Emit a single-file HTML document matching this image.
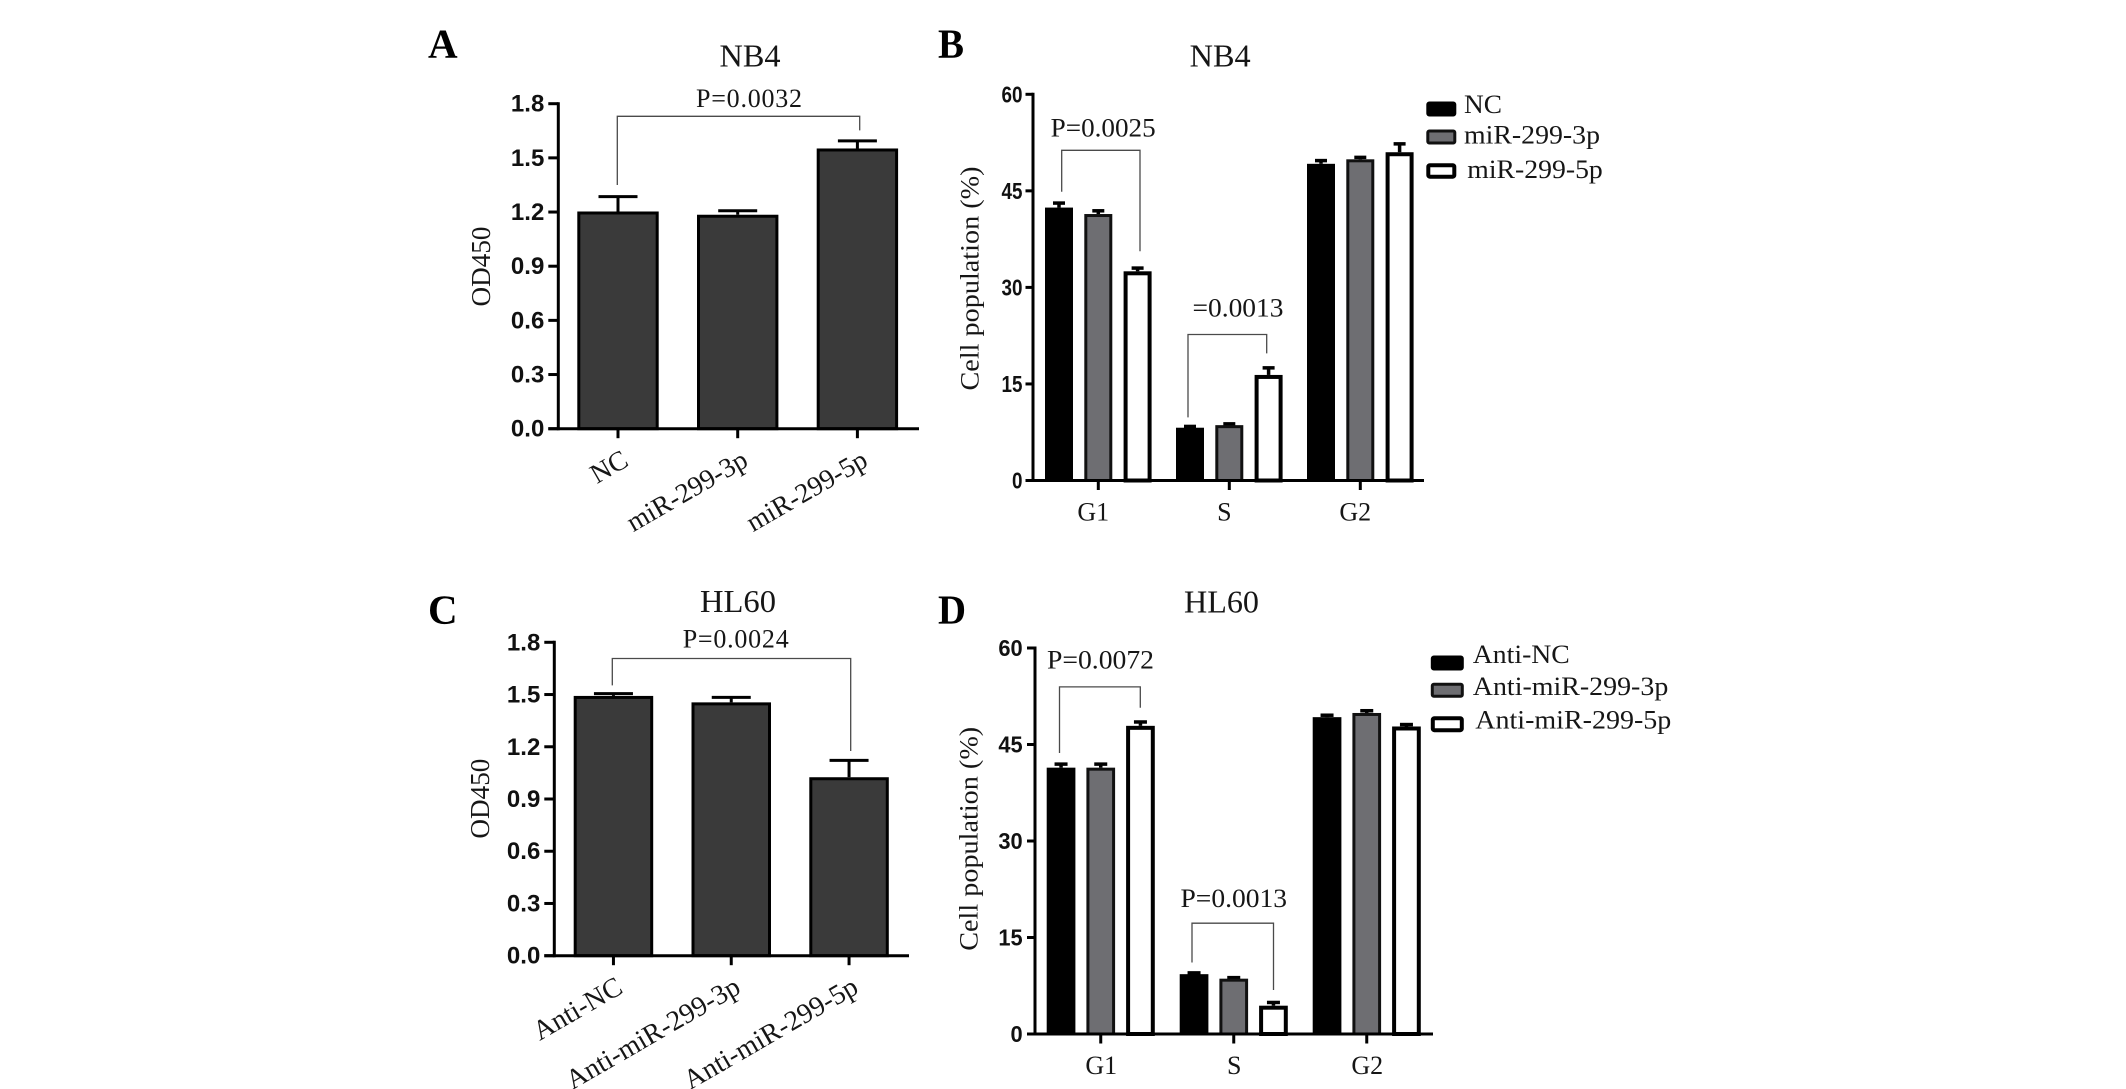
<!DOCTYPE html>
<html lang="en">
<head>
<meta charset="utf-8">
<title>miR-299 OD450 and cell population charts</title>
<style>
  html, body { margin: 0; padding: 0; background: #fff; }
  body { width: 2126px; height: 1089px; overflow: hidden; }
  svg { display: block; }
  .serif { font-family: "Liberation Serif", serif; fill: #161616; }
  .sans { font-family: "Liberation Sans", sans-serif; fill: #111; font-weight: 700; }
  .letter { font-family: "Liberation Serif", serif; font-weight: 700; font-size: 41px; fill: #000; }
  .title { font-size: 32px; }
  .annot { font-size: 26px; }
  .axis-title { font-size: 26px; }
  .legend-text { font-size: 26px; }
  .bracket { fill: none; stroke: #4a4a4a; stroke-width: 1.3; }
</style>
</head>
<body>
<svg id="fig" width="2126" height="1089" viewBox="0 0 2126 1089" xmlns="http://www.w3.org/2000/svg">
  <rect width="2126" height="1089" fill="#fff"/>

  <!-- Panel letters and titles -->
  <text class="letter" x="428" y="57.7">A</text>
  <text class="letter" x="938" y="57.7" textLength="26" lengthAdjust="spacingAndGlyphs">B</text>
  <text class="letter" x="428" y="623.7">C</text>
  <text class="letter" x="938" y="623.7" textLength="28" lengthAdjust="spacingAndGlyphs">D</text>

  <text class="serif title" x="719.5" y="66.7" textLength="61" lengthAdjust="spacingAndGlyphs">NB4</text>
  <text class="serif title" x="1189.7" y="66.7" textLength="61" lengthAdjust="spacingAndGlyphs">NB4</text>
  <text class="serif title" x="700" y="612.2" textLength="76" lengthAdjust="spacingAndGlyphs">HL60</text>
  <text class="serif title" x="1184" y="612.7" textLength="75" lengthAdjust="spacingAndGlyphs">HL60</text>

  <!-- Axis titles -->
  <text class="serif" font-size="27" transform="translate(490 306.5) rotate(-90)" textLength="80" lengthAdjust="spacingAndGlyphs">OD450</text>
  <text class="serif axis-title" transform="translate(978.5 390.5) rotate(-90)" textLength="224" lengthAdjust="spacingAndGlyphs">Cell population (%)</text>
  <text class="serif" font-size="27" transform="translate(489 838.6) rotate(-90)" textLength="80" lengthAdjust="spacingAndGlyphs">OD450</text>
  <text class="serif axis-title" transform="translate(977.5 950.8) rotate(-90)" textLength="224" lengthAdjust="spacingAndGlyphs">Cell population (%)</text>

  <!-- Significance annotations -->
  <path class="bracket" d="M617.3 185V116.3H859.7V130.4"/>
  <text class="serif annot" x="696" y="107" textLength="106" lengthAdjust="spacing">P=0.0032</text>

  <path class="bracket" d="M1061.7 191.7V150.3H1140V251.2"/>
  <text class="serif annot" x="1050.7" y="136.7" textLength="105" lengthAdjust="spacingAndGlyphs">P=0.0025</text>
  <path class="bracket" d="M1188 417.4V334.5H1266.7V353.4"/>
  <text class="serif annot" x="1192.5" y="316.6" textLength="91" lengthAdjust="spacingAndGlyphs">=0.0013</text>

  <path class="bracket" d="M612.3 685.4V658.5H850.7V751"/>
  <text class="serif annot" x="682.7" y="647.5" textLength="106" lengthAdjust="spacing">P=0.0024</text>

  <path class="bracket" d="M1059.5 753V686.9H1140.3V707.8"/>
  <text class="serif annot" x="1047" y="668.4" textLength="107" lengthAdjust="spacingAndGlyphs">P=0.0072</text>
  <path class="bracket" d="M1192 962.5V923.2H1273.5V990"/>
  <text class="serif annot" x="1180.5" y="907.2" textLength="106.5" lengthAdjust="spacingAndGlyphs">P=0.0013</text>

  <!-- Legend B -->
  <g>
    <g>
      <rect x="1427.8" y="103" width="27" height="12" rx="1.5" fill="#000" stroke="#000" stroke-width="3"/>
      <text class="serif legend-text" x="1464" y="113" textLength="38" lengthAdjust="spacingAndGlyphs">NC</text>
    </g>
    <g>
      <rect x="1427.8" y="131" width="27" height="12" rx="1.5" fill="#6e6e72" stroke="#111" stroke-width="3"/>
      <text class="serif legend-text" x="1464" y="143.4" textLength="136" lengthAdjust="spacingAndGlyphs">miR-299-3p</text>
    </g>
    <g>
      <rect x="1428.3" y="165.2" width="26" height="11.5" rx="1.5" fill="#fff" stroke="#000" stroke-width="4"/>
      <text class="serif legend-text" x="1467.3" y="178.2" textLength="135.5" lengthAdjust="spacingAndGlyphs">miR-299-5p</text>
    </g>
  </g>

  <!-- Legend D -->
  <g>
    <g>
      <rect x="1432.3" y="657" width="30" height="12" rx="1.5" fill="#000" stroke="#000" stroke-width="3"/>
      <text class="serif legend-text" x="1472.8" y="662.9" textLength="97" lengthAdjust="spacingAndGlyphs">Anti-NC</text>
    </g>
    <g>
      <rect x="1432.3" y="684.3" width="30" height="12" rx="1.5" fill="#6e6e72" stroke="#111" stroke-width="3"/>
      <text class="serif legend-text" x="1472.8" y="694.9" textLength="195.5" lengthAdjust="spacingAndGlyphs">Anti-miR-299-3p</text>
    </g>
    <g>
      <rect x="1432.8" y="718.2" width="29" height="12" rx="1.5" fill="#fff" stroke="#000" stroke-width="4"/>
      <text class="serif legend-text" x="1475.3" y="728.6" textLength="196" lengthAdjust="spacingAndGlyphs">Anti-miR-299-5p</text>
    </g>
  </g>
</svg>

<script>
// ---- Panel A data ----
const aCategories = ['NC', 'miR-299-3p', 'miR-299-5p'];
const aValues = [1.203, 1.185, 1.552];
const aErrors = [0.082, 0.022, 0.042];
const aTicks = ['0.0', '0.3', '0.6', '0.9', '1.2', '1.5', '1.8'];

// ---- Panel B data ----
const bCategories = ['G1', 'S', 'G2'];
const bNC = [42.4, 8.2, 49.2];
const b3p = [41.4, 8.6, 49.9];
const b5p = [32.5, 16.4, 51.0];
const bNCErrors = [0.7, 0.2, 0.5];
const b3pErrors = [0.5, 0.2, 0.3];
const b5pErrors = [0.5, 1.1, 1.3];
const bTicks = ['0', '15', '30', '45', '60'];

// ---- Panel C data ----
const cCategories = ['Anti-NC', 'Anti-miR-299-3p', 'Anti-miR-299-5p'];
const cValues = [1.492, 1.455, 1.025];
const cErrors = [0.013, 0.029, 0.097];
const cTicks = ['0.0', '0.3', '0.6', '0.9', '1.2', '1.5', '1.8'];

// ---- Panel D data ----
const dCategories = ['G1', 'S', 'G2'];
const dNC = [41.4, 9.3, 49.25];
const d3p = [41.4, 8.6, 49.9];
const d5p = [47.9, 4.4, 47.8];
const dNCErrors = [0.55, 0.2, 0.3];
const d3pErrors = [0.55, 0.16, 0.35];
const d5pErrors = [0.6, 0.5, 0.3];
const dTicks = ['0', '15', '30', '45', '60'];

const SVG_NS = 'http://www.w3.org/2000/svg';
const fig = document.getElementById('fig');

function shape(parent, tag, attrs, text) {
  const el = document.createElementNS(SVG_NS, tag);
  for (const k in attrs) el.setAttribute(k, attrs[k]);
  if (text !== undefined) el.textContent = text;
  parent.appendChild(el);
  return el;
}

function drawPanel(p) {
  const yScale = v => p.y0 - (v / p.max) * (p.y0 - p.yTop);
  const barLeft = (g, s) => p.left + g * p.groupStep + s * p.barStep;
  const barCenter = (g, s) => barLeft(g, s) + p.barW / 2;
  const midSeries = (p.series.length - 1) / 2;
  const groupCenter = g => barCenter(g, midSeries);

  const root = shape(fig, 'g', {});
  
  
  root.setAttribute('data-panel', p.id);

  // bars and error bars
  p.series.forEach((ser, s) => {
    ser.values.forEach((v, g) => {
      const x = barLeft(g, s);
      const top = yScale(v);
      const errTop = yScale(v + ser.errors[g]);
      const cx = barCenter(g, s);

      const stem = shape(root, 'line', { x1: cx, x2: cx, y1: top, y2: errTop, stroke: '#000', 'stroke-width': p.errStroke });
      
      

      const cap = shape(root, 'line', { x1: cx - p.capW / 2, x2: cx + p.capW / 2, y1: errTop, y2: errTop, stroke: '#000', 'stroke-width': p.errStroke });
      
      

      const bar = shape(root, 'rect', {
        x: x + ser.stroke / 2,
        y: top + ser.stroke / 2,
        width: p.barW - ser.stroke,
        height: Math.max(0, p.y0 - top - ser.stroke / 2),
        fill: ser.fill,
        stroke: ser.edge,
        'stroke-width': ser.stroke
      });
      
      
      bar.setAttribute('data-series', ser.key);
      bar.setAttribute('data-category', p.categories[g]);
    });
  });

  // y axis
  const yAxis = shape(root, 'line', { x1: p.axisX, x2: p.axisX, y1: p.yTop - 1.5, y2: p.y0 + 1.5, stroke: '#000', 'stroke-width': 3 });
  
  

  // x axis
  const xAxis = shape(root, 'line', { x1: p.axisX - p.tickLen, x2: p.axisEnd, y1: p.y0, y2: p.y0, stroke: '#000', 'stroke-width': 3 });
  
  

  // y ticks
  p.ticks.forEach(t => {
    const y = yScale(parseFloat(t));
    const tick = shape(root, 'line', { x1: p.axisX - p.tickLen, x2: p.axisX, y1: y, y2: y, stroke: '#000', 'stroke-width': 3 });
    
    

    const attrs = { x: p.axisX - p.tickLabelGap, y: y + p.tickLabelDy, 'text-anchor': 'end', 'font-size': p.tickFont, class: 'sans' };
    if (p.tickScaleX) {
      attrs.x = 0;
      attrs.y = 0;
      attrs.transform = 'translate(' + (p.axisX - p.tickLabelGap) + ' ' + (y + p.tickLabelDy) + ') scale(' + p.tickScaleX + ' 1)';
    }
    const label = shape(root, 'text', attrs, t);
    
    
  });

  // x ticks and labels
  p.categories.forEach((c, g) => {
    const cx = groupCenter(g);
    const tick = shape(root, 'line', { x1: cx, x2: cx, y1: p.y0, y2: p.y0 + 9.5, stroke: '#000', 'stroke-width': 3 });
    
    

    let attrs;
    if (p.rotateLabels) {
      const lx = cx + p.labelDx;
      const ly = p.labelY;
      attrs = { x: lx, y: ly, 'text-anchor': 'end', 'font-size': p.labelFont, class: 'serif', transform: 'rotate(-30 ' + lx + ' ' + ly + ')' };
    } else {
      attrs = { x: cx + p.labelDx, y: p.labelY, 'text-anchor': 'middle', 'font-size': p.labelFont, class: 'serif' };
    }
    const label = shape(root, 'text', attrs, c);
    
    
  });
}

const darkBar = { fill: '#3a3a3a', edge: '#000', stroke: 3 };
const blackBar = { fill: '#000', edge: '#000', stroke: 3 };
const grayBar = { fill: '#6e6e72', edge: '#111', stroke: 3 };
const whiteBar = { fill: '#fff', edge: '#000', stroke: 4 };

drawPanel({
  id: 'A', categories: aCategories, ticks: aTicks, max: 1.8,
  series: [Object.assign({ key: 'OD450', values: aValues, errors: aErrors }, darkBar)],
  y0: 428.7, yTop: 103.7, axisX: 558.3, axisEnd: 919, tickLen: 10,
  left: 577.3, groupStep: 119.7, barStep: 0, barW: 81.4, capW: 39, errStroke: 3,
  tickFont: 24, tickLabelGap: 14, tickLabelDy: 8,
  rotateLabels: true, labelDx: 12, labelY: 465, labelFont: 27.5
});

drawPanel({
  id: 'B', categories: bCategories, ticks: bTicks, max: 60,
  series: [
    Object.assign({ key: 'NC', values: bNC, errors: bNCErrors }, blackBar),
    Object.assign({ key: 'miR-299-3p', values: b3p, errors: b3pErrors }, grayBar),
    Object.assign({ key: 'miR-299-5p', values: b5p, errors: b5pErrors }, whiteBar)
  ],
  y0: 480.5, yTop: 94.3, axisX: 1033, axisEnd: 1424, tickLen: 7.5,
  left: 1045, groupStep: 131, barStep: 39.3, barW: 28, capW: 12, errStroke: 3.5,
  tickFont: 23, tickLabelGap: 10.5, tickLabelDy: 8, tickScaleX: 0.82,
  rotateLabels: false, labelDx: -5, labelY: 520.7, labelFont: 26
});

drawPanel({
  id: 'C', categories: cCategories, ticks: cTicks, max: 1.8,
  series: [Object.assign({ key: 'OD450', values: cValues, errors: cErrors }, darkBar)],
  y0: 955.7, yTop: 642.3, axisX: 554.3, axisEnd: 909, tickLen: 10,
  left: 573.7, groupStep: 117.8, barStep: 0, barW: 79.5, capW: 39, errStroke: 3,
  tickFont: 24, tickLabelGap: 14, tickLabelDy: 8,
  rotateLabels: true, labelDx: 11, labelY: 992, labelFont: 28
});

drawPanel({
  id: 'D', categories: dCategories, ticks: dTicks, max: 60,
  series: [
    Object.assign({ key: 'Anti-NC', values: dNC, errors: dNCErrors }, blackBar),
    Object.assign({ key: 'Anti-miR-299-3p', values: d3p, errors: d3pErrors }, grayBar),
    Object.assign({ key: 'Anti-miR-299-5p', values: d5p, errors: d5pErrors }, whiteBar)
  ],
  y0: 1034, yTop: 648, axisX: 1035, axisEnd: 1433, tickLen: 8,
  left: 1046.7, groupStep: 133, barStep: 39.7, barW: 28.7, capW: 13, errStroke: 3.5,
  tickFont: 23, tickLabelGap: 12.3, tickLabelDy: 8, tickScaleX: 0.95,
  rotateLabels: false, labelDx: 0.5, labelY: 1074, labelFont: 26
});
</script>
</body>
</html>
